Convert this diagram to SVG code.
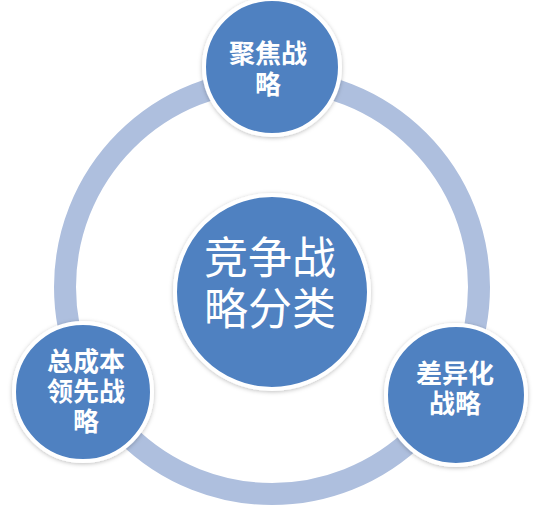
<svg xmlns="http://www.w3.org/2000/svg" width="546" height="514" viewBox="0 0 546 514">
  <defs>
    <filter id="sh" x="-20%" y="-20%" width="140%" height="140%">
      <feDropShadow dx="0" dy="1" stdDeviation="2" flood-color="#000" flood-opacity="0.25"/>
    </filter>
    <style>
      .node { fill: #4F81C1; stroke: #FFFFFF; stroke-width: 4; filter: url(#sh); }
      .ring { fill: none; stroke: #AEBFDE; stroke-width: 22; }
      .lbl { fill: #FFFFFF; font-family: "Noto Sans CJK SC", "Noto Sans", sans-serif; text-anchor: middle; }
      .small { font-size: 26px; font-weight: bold; }
      .big { font-size: 44px; font-weight: normal; }
    </style>
  </defs>
  <rect width="546" height="514" fill="#FFFFFF"/>
  <g id="connectors">
    <circle class="ring" cx="272" cy="287" r="207"/>
  </g>
  <g id="center">
    <circle class="node" cx="272" cy="292" r="97"/>
    <text class="lbl big"><tspan x="270" y="274">竞争战</tspan><tspan x="270" y="325">略分类</tspan></text>
  </g>
  <g id="top">
    <circle class="node" cx="272" cy="67" r="68"/>
    <text class="lbl small"><tspan x="268" y="63">聚焦战</tspan><tspan x="268" y="94">略</tspan></text>
  </g>
  <g id="left">
    <circle class="node" cx="83" cy="392" r="69"/>
    <text class="lbl small"><tspan x="86" y="371">总成本</tspan><tspan x="86" y="401">领先战</tspan><tspan x="86" y="431">略</tspan></text>
  </g>
  <g id="right">
    <circle class="node" cx="456" cy="395" r="70"/>
    <text class="lbl small"><tspan x="455" y="383">差异化</tspan><tspan x="455" y="413">战略</tspan></text>
  </g>
</svg>
